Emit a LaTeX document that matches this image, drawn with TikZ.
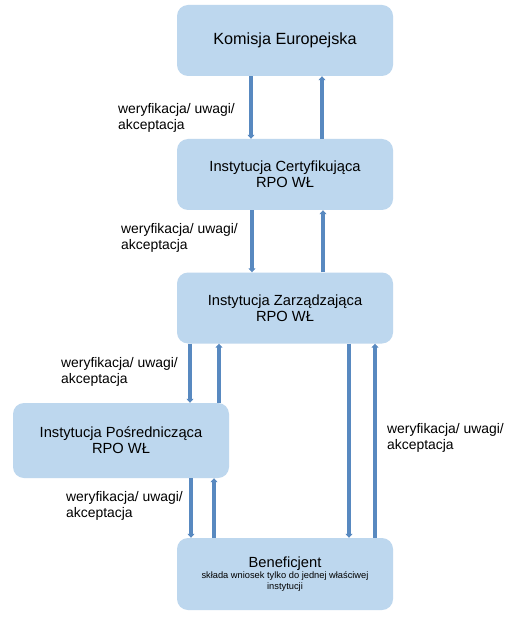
\documentclass[tikz,border=0pt]{standalone}
\usepackage{fontspec}
\setmainfont{Liberation Sans}
\usetikzlibrary{arrows.meta}
\definecolor{boxfill}{RGB}{189,215,238}
\definecolor{arrowc}{RGB}{88,137,192}
\tikzset{
  inst/.style={fill=boxfill, rounded corners=11pt, minimum width=216pt, minimum height=71pt, inner sep=0pt, align=center, font=\fontsize{14.7}{16}\selectfont},
  arr/.style={draw=arrowc, line width=3.6pt, -{Triangle[width=7pt,length=4pt]}},
  lbl/.style={anchor=west, align=left, inner sep=0pt, font=\fontsize{13.9}{16}\selectfont}
}
\begin{document}
\begin{tikzpicture}[x=1pt,y=-1pt]
\useasboundingbox[fill=white] (0,0) rectangle (514,620);
\node[inst, font=\fontsize{16.2}{18}\selectfont] (ke) at (285,40.5) {Komisja Europejska};
\node[inst] (ic) at (285,174.5) {Instytucja Certyfikująca\\RPO WŁ};
\node[inst] (iz) at (285,308) {Instytucja Zarządzająca\\RPO WŁ};
\node[inst, minimum height=75pt] (ip) at (121,440.5) {Instytucja Pośrednicząca\\RPO WŁ};
\node[inst, minimum height=72pt, font=\fontsize{9.3}{11}\selectfont] (ben) at (285,574) {{\fontsize{14.7}{13}\selectfont Beneficjent}\\składa wniosek tylko do jednej właściwej\\instytucji};
% KE - IC
\draw[arr] ([xshift=-34pt]ke.south) -- ([xshift=-34pt]ic.north);
\draw[arr] ([xshift=37pt]ic.north) -- ([xshift=37pt]ke.south);
% IC - IZ
\draw[arr] ([xshift=-33pt]ic.south) -- ([xshift=-33pt]iz.north);
\draw[arr] ([xshift=38pt]iz.north) -- ([xshift=38pt]ic.south);
% IZ - IP
\draw[arr] ([xshift=-95pt]iz.south) -- ([xshift=69pt]ip.north);
\draw[arr] ([xshift=98pt]ip.north) -- ([xshift=-66pt]iz.south);
% IZ - Ben
\draw[arr] ([xshift=64pt]iz.south) -- ([xshift=64pt]ben.north);
\draw[arr] ([xshift=90pt]ben.north) -- ([xshift=90pt]iz.south);
% IP - Ben
\draw[arr] ([xshift=70pt]ip.south) -- ([xshift=-94pt]ben.north);
\draw[arr] ([xshift=-71pt]ben.north) -- ([xshift=93pt]ip.south);
% labels
\node[lbl] (l1) at (118,118) {weryfikacja/ uwagi/\\akceptacja};
\node[lbl] (l2) at (121,238) {weryfikacja/ uwagi/\\akceptacja};
\node[lbl] (l3) at (61,371.5) {weryfikacja/ uwagi/\\akceptacja};
\node[lbl] (l4) at (387,437.5) {weryfikacja/ uwagi/\\akceptacja};
\node[lbl] (l5) at (66,506) {weryfikacja/ uwagi/\\akceptacja};
\end{tikzpicture}
\end{document}
